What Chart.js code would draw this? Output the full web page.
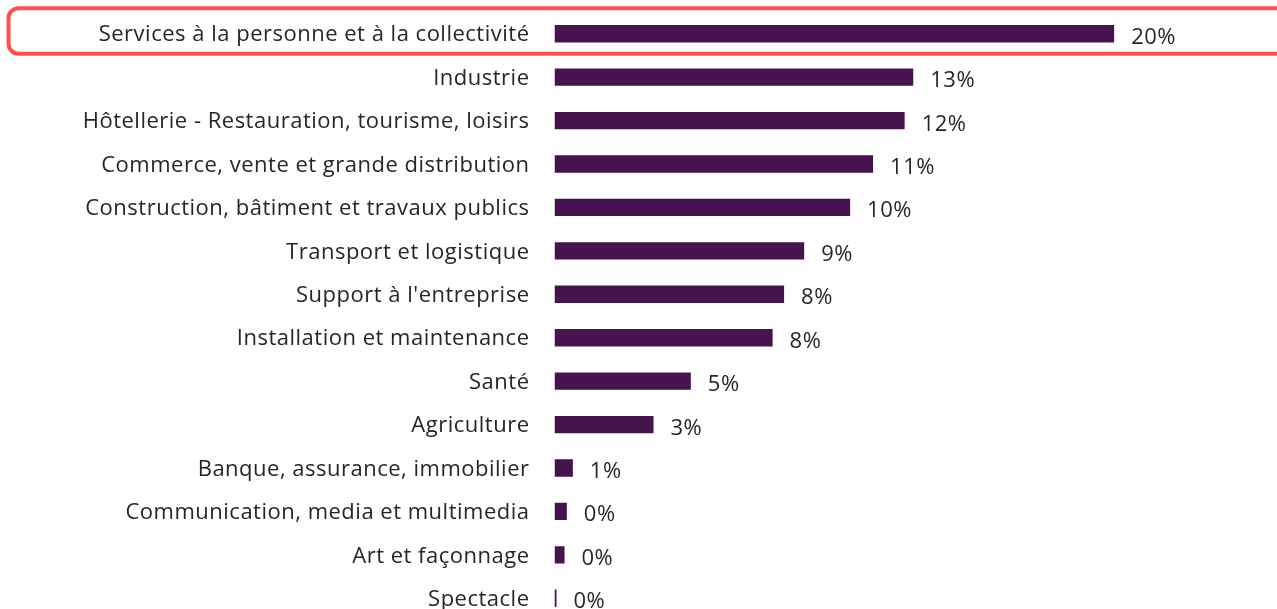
<!DOCTYPE html>
<html>
<head>
<meta charset="utf-8">
<script src="https://cdn.jsdelivr.net/npm/chart.js@4/dist/chart.umd.min.js"></script>
<style>
  html, body { margin: 0; padding: 0; background: #ffffff; overflow: hidden; }
  #wrap { position: absolute; left: 0; top: 0; width: 1277px; height: 625px; }
</style>
</head>
<body>
<div id="wrap"><canvas id="c" width="1277" height="625"></canvas></div>
<script>
const categories = [
  "Services à la personne et à la collectivité",
  "Industrie",
  "Hôtellerie - Restauration, tourisme, loisirs",
  "Commerce, vente et grande distribution",
  "Construction, bâtiment et travaux publics",
  "Transport et logistique",
  "Support à l'entreprise",
  "Installation et maintenance",
  "Santé",
  "Agriculture",
  "Banque, assurance, immobilier",
  "Communication, media et multimedia",
  "Art et façonnage",
  "Spectacle"
];
const shares = [19.5, 12.5, 12.2, 11.1, 10.3, 8.7, 8.0, 7.6, 4.75, 3.45, 0.64, 0.43, 0.35, 0.07];
const highlightIndex = 0;

const FONT = "'Open Sans', Lato, 'Liberation Sans', sans-serif";
const SPACING = '0.5px';

const letterSpacer = {
  id: 'letterSpacer',
  beforeDraw(chart) { chart.ctx.letterSpacing = SPACING; }
};

const valueLabels = {
  id: 'valueLabels',
  afterDatasetsDraw(chart) {
    const ctx = chart.ctx;
    const meta = chart.getDatasetMeta(0);
    ctx.save();
    ctx.letterSpacing = SPACING;
    ctx.font = "22px " + FONT;
    ctx.fillStyle = '#262626';
    ctx.textAlign = 'left';
    ctx.textBaseline = 'alphabetic';
    meta.data.forEach((bar, i) => {
      const v = chart.data.datasets[0].data[i];
      ctx.fillText(Math.round(v) + '%', bar.x + 17, bar.y + 10);
    });
    ctx.restore();
  }
};

const highlightBox = {
  id: 'highlightBox',
  afterDraw(chart) {
    const ctx = chart.ctx;
    const yc = chart.scales.y.getPixelForValue(highlightIndex);
    const x0 = 8.5, x1 = 1295, y0 = yc - 25.5, y1 = yc + 20, r = 10;
    ctx.save();
    ctx.strokeStyle = '#FF4F4F';
    ctx.lineWidth = 4;
    ctx.beginPath();
    ctx.roundRect(x0, y0, x1 - x0, y1 - y0, r);
    ctx.stroke();
    ctx.restore();
  }
};

new Chart(document.getElementById('c'), {
  type: 'bar',
  data: {
    labels: categories,
    datasets: [{
      data: shares,
      backgroundColor: '#46134F',
      borderWidth: 0,
      barPercentage: 0.4,
      categoryPercentage: 1.0
    }]
  },
  options: {
    indexAxis: 'y',
    responsive: false,
    animation: false,
    layout: { padding: { top: 12, bottom: 5, left: 0, right: 5 } },
    plugins: { legend: { display: false }, tooltip: { enabled: false } },
    scales: {
      x: { display: false, min: 0, max: 25 },
      y: {
        grid: { display: false },
        border: { display: false },
        ticks: {
          color: '#262626',
          font: { family: FONT, size: 22 },
          padding: 17,
          labelOffset: 1.5,
          autoSkip: false
        },
        afterFit(scale) {
          scale.width = 554.5;
          scale.paddingTop = 0;
          scale.paddingBottom = 0;
        }
      }
    }
  },
  plugins: [letterSpacer, valueLabels, highlightBox]
});
</script>
</body>
</html>
